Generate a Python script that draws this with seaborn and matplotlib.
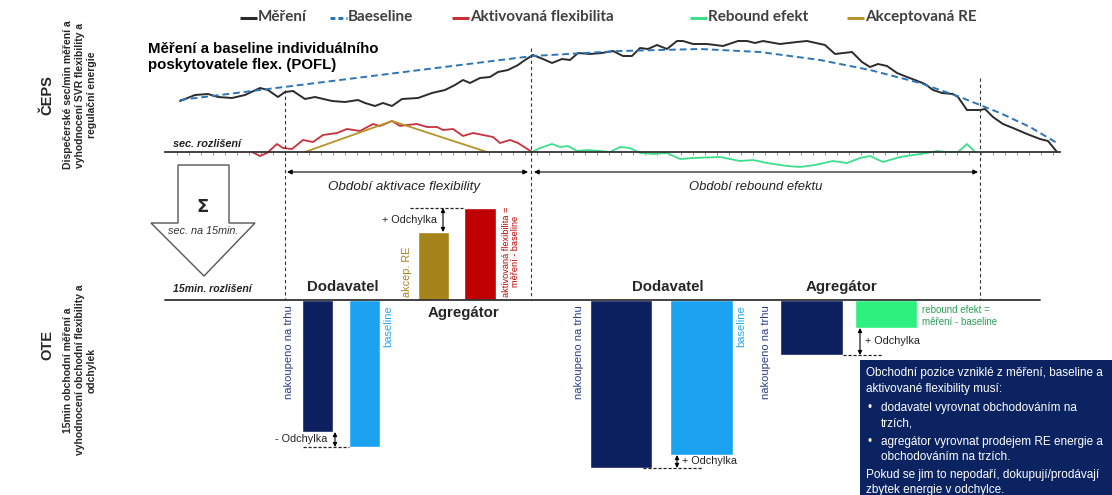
import numpy as np
import pandas as pd
import matplotlib
matplotlib.use("Agg")
import matplotlib.pyplot as plt
import seaborn as sns
from matplotlib.patches import Polygon, Rectangle

# --- data (time in arbitrary units, power in arbitrary units) ---
t_mereni = [1.5, 3.0, 4.3, 5.3, 6.7, 8.0, 9.5, 10.3, 11.3, 12.0, 12.8, 14.0, 15.0, 16.7, 18.0,
            19.3, 20.0, 21.0, 21.8, 22.7, 23.7, 25.3, 26.7, 28.0, 29.0, 29.8, 30.5, 31.5, 32.5,
            33.3, 34.3, 35.3, 36.0, 36.8, 37.8, 38.7, 39.7, 40.5, 41.3, 42.5, 43.7, 44.8, 45.8,
            46.7, 47.5, 48.3, 49.2, 50.2, 51.2, 51.8, 52.8, 54.2, 55.8, 57.3, 58.2, 59.0, 59.8,
            61.5, 63.2, 64.2, 66.0, 67.0, 68.7, 69.7, 70.5, 71.3, 72.2, 73.2, 74.2, 75.0, 76.0,
            76.8, 77.7, 78.8, 79.3, 80.2, 81.5, 82.0, 82.8, 83.8, 84.8, 86.2, 87.5, 88.3, 89.2]
mereni = [5.1, 5.7, 5.8, 5.5, 5.4, 5.7, 6.4, 6.2, 5.5, 6.0, 6.1, 5.3, 5.5, 5.1, 5.0,
          5.2, 4.9, 4.6, 4.9, 4.6, 5.3, 5.4, 5.9, 6.2, 6.7, 7.2, 6.9, 7.4, 7.5,
          8.0, 8.2, 8.7, 9.2, 9.7, 9.3, 8.9, 9.3, 9.2, 9.9, 9.8, 9.9, 10.1, 9.6,
          9.6, 10.4, 10.3, 10.7, 10.3, 11.1, 11.1, 10.8, 10.8, 10.6, 11.1, 11.1, 10.9, 11.1,
          10.8, 11.0, 11.1, 10.7, 9.8, 10.0, 9.0, 8.5, 8.8, 8.6, 7.9, 7.5, 7.2, 6.8,
          6.2, 5.9, 5.8, 5.5, 4.2, 4.2, 4.3, 3.5, 2.8, 2.4, 1.8, 1.3, 1.1, 0.0]

t_baseline = [1.5, 13.5, 25.5, 36.8, 45.5, 53.5, 59.5, 65.5, 70.5, 75.5, 79.5, 83.5, 86.5, 89.2]
baseline = [5.2, 6.7, 8.2, 9.6, 10.1, 10.3, 10.0, 9.2, 8.2, 6.9, 5.5, 3.9, 2.5, 0.9]

t_flex = [8.7, 9.5, 10.2, 11.2, 11.8, 12.7, 13.8, 14.8, 15.8, 17.2, 18.2, 19.5, 20.8, 21.5,
          22.7, 23.5, 24.2, 25.2, 26.2, 27.2, 27.8, 28.8, 29.8, 30.8, 31.8, 32.8, 33.5, 34.5,
          35.3, 36.7]
flex = [0.0, -0.4, -0.1, 0.8, 0.4, 0.3, 1.2, 1.0, 1.7, 1.9, 2.3, 2.1, 2.8, 2.6,
        3.1, 2.6, 2.7, 2.8, 2.5, 2.5, 2.2, 2.3, 1.6, 1.9, 1.7, 1.5, 0.9, 1.2,
        0.9, 0.0]

t_re = [14.0, 22.7, 32.2]
akcept_re = [0.0, 3.1, 0.0]

t_rebound = [36.7, 37.5, 38.7, 39.5, 40.3, 41.2, 42.2, 43.5, 44.5, 45.5, 46.5, 47.5, 48.8, 50.2,
             51.5, 52.8, 55.5, 57.5, 58.8, 60.2, 62.2, 63.5, 65.0, 66.8, 68.2, 69.5, 70.5, 71.8,
             73.5, 74.8, 76.2, 77.2, 78.2, 79.3, 80.2, 81.0]
rebound = [0.0, 0.4, 0.8, 0.5, 0.6, 0.1, 0.2, 0.1, 0.0, 0.5, 0.4, -0.1, -0.2, -0.1,
           -0.7, -0.6, -0.5, -0.9, -0.8, -1.1, -1.4, -1.5, -1.3, -0.9, -1.1, -0.6, -0.4, -1.0,
           -0.5, -0.3, -0.1, 0.1, 0.0, 0.0, 0.8, 0.0]

# 15min values (bars)
bar_names = ["dod1_nakup", "dod1_baseline", "akcep_re", "aktiv_flex",
             "dod2_nakup", "dod2_baseline", "agr_nakup", "rebound"]
bar_values = [-13.2, -14.7, 6.8, 9.2, -16.8, -15.5, -5.5, -2.8]

legend_labels = ["Měření", "Baeseline", "Aktivovaná flexibilita", "Rebound efekt", "Akceptovaná RE"]

# --- layout / styles ---
bar_x = [317.5, 364.5, 433.5, 480, 621, 701.5, 811.5, 886]
bar_w = [31, 31, 31, 32, 62, 63, 63, 62]
legend_x = [240, 330, 452, 690, 847]
NAVY = "#0c1f5e"
LBLUE = "#1ba3f2"
GOLD = "#a6841a"
RED = "#c00000"
GREEN = "#2ef07e"
bar_colors = [NAVY, LBLUE, GOLD, RED, NAVY, LBLUE, NAVY, GREEN]

C_MER = "#2b2b2b"
C_BASE = "#2e75b6"
C_FLEX = "#c8303a"
C_REB = "#3de08a"
C_RE = "#b8922a"

sns.set_theme(style="white")
plt.rcParams['font.family'] = ['Liberation Sans', 'DejaVu Sans']

fig = plt.figure(figsize=(11.12, 4.95), dpi=100)

# top chart: seconds resolution
ax_top = fig.add_axes([165 / 1112, (495 - 175) / 495, 895 / 1112, 140 / 495])
ax_top.patch.set_alpha(0)
sns.lineplot(x=t_flex, y=flex, ax=ax_top, color=C_FLEX, lw=1.3, estimator=None)
sns.lineplot(x=t_re, y=akcept_re, ax=ax_top, color=C_RE, lw=1.3, estimator=None)
sns.lineplot(x=t_rebound, y=rebound, ax=ax_top, color=C_REB, lw=1.3, estimator=None)
sns.lineplot(x=t_mereni, y=mereni, ax=ax_top, color=C_MER, lw=1.4, estimator=None)
sns.lineplot(x=t_baseline, y=baseline, ax=ax_top, color=C_BASE, lw=1.4, estimator=None,
             linestyle=(0, (3.5, 2)))
ax_top.set_xlim(0, 89.5)
ax_top.set_ylim(-2.3, 11.7)
for s in ["top", "right", "left"]:
    ax_top.spines[s].set_visible(False)
ax_top.spines["bottom"].set_position(("data", 0))
ax_top.spines["bottom"].set_color("#333333")
ax_top.spines["bottom"].set_linewidth(1.3)
ax_top.set_xticks(np.arange(1.2, 89.5, 1.2))
ax_top.tick_params(axis="x", length=2.2, width=0.5, colors="#666666", labelbottom=False,
                   direction="out", bottom=True)
ax_top.set_yticks([])
ax_top.set_xlabel("")
ax_top.set_ylabel("")

# bottom chart: 15min resolution
ax_bot = fig.add_axes([0, 0, 1, 335 / 495])
ax_bot.patch.set_alpha(0)
ax_bot.bar(bar_x, bar_values, width=bar_w, color=bar_colors, zorder=2)
ax_bot.set_xlim(0, 1112)
ax_bot.set_ylim(-19.5, 14.0)
ax_bot.plot([165, 1040], [0, 0], color="#333333", lw=1.3, zorder=3)
ax_bot.axis("off")


def odchylka(ax, x, y0, y1, dash_x0, dash_x1, label, tx, ha):
    ax.annotate("", xy=(x, y0), xytext=(x, y1),
                arrowprops=dict(arrowstyle="<|-|>", color="black", lw=0.8, mutation_scale=6,
                                shrinkA=0, shrinkB=0), zorder=4)
    ax.plot([dash_x0, dash_x1], [y1, y1], color="#222222", lw=0.9, ls=(0, (2.5, 1.5)), zorder=4)
    ax.text(tx, (y0 + y1) / 2, label, ha=ha, va="center", fontsize=7.8, color="#222222")


v = dict(zip(bar_names, bar_values))
odchylka(ax_bot, 335, v["dod1_nakup"], v["dod1_baseline"], 303, 349, "- Odchylka", 327, "right")
odchylka(ax_bot, 443, v["akcep_re"], v["aktiv_flex"], 410, 463, "+ Odchylka", 437, "right")
odchylka(ax_bot, 677, v["dod2_baseline"], v["dod2_nakup"], 643, 702, "+ Odchylka", 682, "left")
odchylka(ax_bot, 860, v["rebound"], v["agr_nakup"], 843, 882, "+ Odchylka", 865, "left")

# overlay in pixel space for annotations
ov = fig.add_axes([0, 0, 1, 1])
ov.set_xlim(0, 1112)
ov.set_ylim(495, 0)
ov.axis("off")
ov.patch.set_alpha(0)

# legend (manually placed, like the tab-aligned original)
leg_colors = [C_MER, C_BASE, C_FLEX, C_REB, C_RE]
leg_styles = ["-", (0, (1.6, 1.0)), "-", "-", "-"]
for x, lab, c, ls in zip(legend_x, legend_labels, leg_colors, leg_styles):
    ov.plot([x, x + 17], [18, 18], color=c, lw=2.2, ls=ls, solid_capstyle="butt")
    ov.text(x + 18, 17, lab, ha="left", va="center", fontsize=11, fontweight="bold",
            family=["Lato", "DejaVu Sans"], color="#404040")

# vertical period markers
for x, y0 in [(285, 90), (531, 48), (980, 78)]:
    ov.plot([x, x], [y0, 300], color="#333333", lw=0.8, ls=(0, (3, 2.5)))

ov.annotate("", xy=(287, 172), xytext=(528, 172),
            arrowprops=dict(arrowstyle="<|-|>", color="black", lw=0.8, mutation_scale=7,
                            shrinkA=0, shrinkB=0))
ov.annotate("", xy=(534, 172), xytext=(978, 172),
            arrowprops=dict(arrowstyle="<|-|>", color="black", lw=0.8, mutation_scale=7,
                            shrinkA=0, shrinkB=0))
ov.text(404, 187, "Období aktivace flexibility", ha="center", va="center", fontsize=9.6,
        style="italic", color="#222222")
ov.text(756, 187, "Období rebound efektu", ha="center", va="center", fontsize=9.4,
        style="italic", color="#222222")

# title of top chart
ov.text(148, 42, "Měření a baseline individuálního\nposkytovatele flex. (POFL)", ha="left",
        va="top", fontsize=10.8, fontweight="bold", color="black", linespacing=1.2)
ov.text(173, 144, "sec. rozlišení", ha="left", va="center", fontsize=7.8,
        fontweight="bold", style="italic", color="#222222")
ov.text(173, 289, "15min. rozlišení", ha="left", va="center", fontsize=7.6,
        fontweight="bold", style="italic", color="#222222")

# sum arrow
arrow = Polygon([(178, 165), (229, 165), (229, 223), (255, 223), (204, 276), (151, 223),
                 (178, 223)], closed=True, facecolor="white", edgecolor="#555555", lw=1.0)
ov.add_patch(arrow)
ov.text(203, 207, "Σ", ha="center", va="center", fontsize=13, fontweight="bold",
        family=["DejaVu Sans"])
ov.text(203, 231, "sec. na 15min.", ha="center", va="center", fontsize=7.8, style="italic",
        color="#333333")

# participants
ov.text(343, 287, "Dodavatel", ha="center", va="center", fontsize=10.8, fontweight="bold")
ov.text(463, 313, "Agregátor", ha="center", va="center", fontsize=10.8, fontweight="bold")
ov.text(668, 287, "Dodavatel", ha="center", va="center", fontsize=10.8, fontweight="bold")
ov.text(842, 287, "Agregátor", ha="center", va="center", fontsize=10.8, fontweight="bold")

# rotated bar labels
C_NTXT = "#2a3f8a"
C_BTXT = "#2aa8f0"
ov.text(289, 305, "nakoupeno na trhu", rotation=90, ha="center", va="top", fontsize=8.0,
        color=C_NTXT)
ov.text(388, 305, "baseline", rotation=90, ha="center", va="top", fontsize=8.0, color=C_BTXT)
ov.text(579, 305, "nakoupeno na trhu", rotation=90, ha="center", va="top", fontsize=8.0,
        color=C_NTXT)
ov.text(741, 305, "baseline", rotation=90, ha="center", va="top", fontsize=8.0, color=C_BTXT)
ov.text(766, 305, "nakoupeno na trhu", rotation=90, ha="center", va="top", fontsize=8.0,
        color=C_NTXT)
ov.text(407, 297, "akcep. RE", rotation=90, ha="center", va="bottom", fontsize=7.8, color=GOLD)
ov.text(511, 297, "aktivovaná flexibilita =\nměření - baseline", rotation=90, ha="center",
        va="bottom", fontsize=6.6, color=RED, linespacing=1.1)
ov.text(922, 316, "rebound efekt =\nměření - baseline", ha="left", va="center", fontsize=7.0,
        color="#2e9e58", linespacing=1.3)

# info box
ov.add_patch(Rectangle((860, 360), 252, 135, facecolor="#0b2461", edgecolor="none"))
box_lines = [
    (866, 373, "Obchodní pozice vzniklé z měření, baseline a"),
    (866, 389, "aktivované flexibility musí:"),
    (868, 408, "•"),
    (881, 408, "dodavatel vyrovnat obchodováním na"),
    (881, 423, "trzích,"),
    (868, 442, "•"),
    (881, 442, "agregátor vyrovnat prodejem RE energie a"),
    (881, 457, "obchodováním na trzích."),
    (866, 475, "Pokud se jim to nepodaří, dokupují/prodávají"),
    (866, 490, "zbytek energie v odchylce."),
]
for x, y, s in box_lines:
    ov.text(x, y, s, ha="left", va="center", fontsize=8.5, color="white")

# left side labels
ov.text(47, 95, "ČEPS", rotation=90, ha="center", va="center", fontsize=10.5, fontweight="bold")
ov.text(80, 95, "Dispečerské sec/min měření a\nvyhodnocení SVR flexibility a\nregulační energie",
        rotation=90, ha="center", va="center", fontsize=7.5, fontweight="bold",
        multialignment="center", linespacing=1.25)
ov.text(47, 345, "OTE", rotation=90, ha="center", va="center", fontsize=10.5, fontweight="bold")
ov.text(80, 370, "15min obchodní měření a\nvyhodnocení obchodní flexibility a\nodchylek",
        rotation=90, ha="center", va="center", fontsize=7.5, fontweight="bold",
        multialignment="center", linespacing=1.25)

fig.savefig("out.png", dpi=100)
